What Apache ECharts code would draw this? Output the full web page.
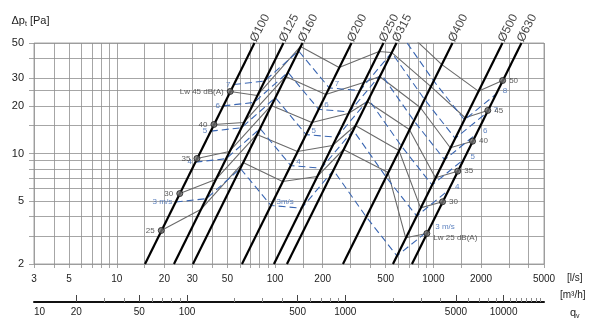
<!DOCTYPE html>
<html><head><meta charset="utf-8">
<script src="https://cdn.jsdelivr.net/npm/echarts@6/dist/echarts.min.js"></script>
<style>html,body{margin:0;padding:0;background:#fff}#c{width:600px;height:331px}</style>
</head><body><div id="c"></div>
<script>
// ---- axes ----
const xGridValues = [3,4,5,6,7,8,9,10,15,20,30,40,50,60,70,80,90,100,150,200,300,400,500,600,700,800,900,1000,1500,2000,3000,4000,5000];
const xLabelValues = [3,5,10,20,30,50,100,200,500,1000,2000,5000];
const yGridValues = [2,3,4,5,6,7,8,9,10,15,20,25,30,40,50];
const yLabelValues = [2,5,10,20,30,50];
const m3hLabelValues = [10.8,20,50,100,500,1000,5000,10000];
const m3hLabelTexts = ['10','20','50','100','500','1000','5000','10000'];
const m3hMajorTicks = [20,50,100,500,1000,5000,10000];
const m3hMinorTicks = [30,40,60,70,80,90,200,300,400,600,700,800,900,2000,3000,4000,6000,7000,8000,9000,11000,12000,13000,14000,15000,16000,17000];

// ---- duct sizes: flow q [l/s] at dp = 2 Pa and at dp = 50 Pa ----
const diameters = ['Ø100','Ø125','Ø160','Ø200','Ø250','Ø315','Ø400','Ø500','Ø630'];
const ductQAt2  = [15.08, 22.98, 30.30, 61.8, 98.4, 118.9, 268.6, 555.7, 732.5];
const ductQAt50 = [74.1, 113.0, 149.0, 304, 484, 585, 1321, 2733, 3602];

// ---- sound power lines Lw [q, dp] through the sizes ----
const lw25 = [[19.1,3.26],[33.9,4.42],[62.8,8.77],[111.6,6.65],[184.3,7.15],[270.4,10.6],[517.5,7.58],[668.8,2.93],[909.7,3.12]];
const lw30 = [[25.0,5.58],[42.1,6.84],[76.8,13.19],[138.6,10.3],[230.5,11.24],[321.6,15.04],[606.5,10.45],[830.2,4.53],[1143,4.95]];
const lw35 = [[32.1,9.30],[51.5,10.3],[94.6,20.13],[170.8,15.71],[290.2,17.92],[382.3,21.34],[705.4,14.19],[1031,7.02],[1425,7.73]];
const lw40 = [[41.1,15.26],[63.5,15.71],[116.7,30.71],[209.0,23.63],[362.8,28.14],[457.7,30.71],[826.8,19.55],[1279,10.87],[1768,11.96]];
const lw45 = [[52.1,24.69],[77.2,23.29],[144.8,47.56],[253.9,35.02],[453.7,44.22],[544.0,43.58],[961.8,26.56],[1588,16.83],[2207,18.72]];
const lw50 = [[647,61.8],[1127,36.6],[1924,24.8],[2740,28.97]];
const lwLeftLabels = ['25','30','35','40','Lw 45 dB(A)'];
const lwRightLabels = ['Lw 25 dB(A)','30','35','40','45','50'];

// ---- velocity lines [q, dp] ----
const vel3 = [[23.56,4.93],[36.82,5.18],[60.32,8.04],[94.25,4.69],[147.3,4.51],[233.8,7.84],[377,3.97],[589,2.25],[935,3.27]];
const vel4 = [[31.42,8.82],[49.09,9.27],[80.42,14.38],[125.7,8.39],[196.3,8.07],[311.7,14.02],[502.7,7.10],[785.4,4.02],[1247,5.86]];
const vel5 = [[39.27,13.85],[61.36,14.55],[100.5,22.56],[157.1,13.17],[245.4,12.67],[389.7,22.01],[628.3,11.14],[981.7,6.32],[1559,9.19]];
const vel6 = [[47.12,20.01],[73.63,21.03],[120.6,32.61],[188.5,19.04],[294.5,18.31],[467.6,31.82],[754,16.11],[1178,9.13],[1870,13.29]];
const vel7 = [[54.98,27.33],[85.9,28.71],[140.7,44.55],[219.9,26.0],[343.6,25.0],[545.5,43.45],[879.6,21.98],[1374,12.46],[2182,18.16]];
const vel8 = [[623.4,56.9],[1005,28.77],[1571,16.33],[2494,23.78]];
const velLeftLabels = ['3 m/s','4','5','6','7'];
const velMidLabels = ['3m/s','4','5','6','7'];
const velRightLabels = ['3 m/s','4','5','6','7','8'];

// ---- build ----
const FONT = 'Liberation Sans, Arial, Helvetica, sans-serif';
const GRID = '#8f8f8f';
const BLUE = '#3a66b2';
const lwSets = [lw25, lw30, lw35, lw40, lw45, lw50];
const velSets = [vel3, vel4, vel5, vel6, vel7, vel8];
const series = [];
const plain = v => String(Math.round(v));

lwSets.forEach(d => series.push({type:'line', data:d, symbol:'none', silent:true, z:3,
  lineStyle:{color:'#6a6a6a', width:1.1}}));
velSets.forEach(d => series.push({type:'line', data:d, symbol:'none', silent:true, z:4,
  lineStyle:{color:BLUE, width:1.1, type:[7,4]}}));
diameters.forEach((n,i) => series.push({type:'line', data:[[ductQAt2[i],2],[ductQAt50[i],50]], symbol:'none', silent:true, z:5,
  lineStyle:{color:'#000', width:2.2}}));

// Lw markers
series.push({type:'scatter', z:7, silent:true, symbolSize:6,
  itemStyle:{color:'#707070', borderColor:'#1a1a1a', borderWidth:1},
  label:{show:true, position:'left', distance:3, fontSize:8, color:'#333', fontFamily:FONT},
  data: lwLeftLabels.map((t,i)=>({value: lwSets[i][0], label:{formatter:t}}))});
series.push({type:'scatter', z:7, silent:true, symbolSize:6,
  itemStyle:{color:'#707070', borderColor:'#1a1a1a', borderWidth:1},
  label:{show:true, position:'right', distance:3, fontSize:8, color:'#333', fontFamily:FONT},
  data: lwRightLabels.map((t,i)=>({value: lwSets[i][lwSets[i].length-1], label: i===0 ? {formatter:t, offset:[0,4]} : {formatter:t}}))});

// velocity labels
series.push({type:'scatter', z:6, silent:true, symbolSize:1, itemStyle:{color:'rgba(0,0,0,0)'},
  label:{show:true, position:'left', distance:3, fontSize:8, color:BLUE, fontFamily:FONT},
  data: velLeftLabels.map((t,i)=>({value: velSets[i][0], label:{formatter:t}}))});
series.push({type:'scatter', z:6, silent:true, symbolSize:1, itemStyle:{color:'rgba(0,0,0,0)'},
  label:{show:true, position:'right', distance:5, offset:[0,-4], fontSize:8, color:BLUE, fontFamily:FONT},
  data: velMidLabels.map((t,i)=>({value: velSets[i][3], label:{formatter:t}}))});
series.push({type:'scatter', z:6, silent:true, symbolSize:1, itemStyle:{color:'rgba(0,0,0,0)'},
  label:{show:true, position:'right', distance:6, offset:[0,-3], fontSize:8, color:BLUE, fontFamily:FONT},
  data: velRightLabels.map((t,i)=>({value: velSets[i][velSets[i].length-1], label:{formatter:t}}))});

// diameter labels
series.push({type:'scatter', z:6, silent:true, clip:false, symbolSize:1, itemStyle:{color:'rgba(0,0,0,0)'},
  label:{show:true, position:'right', distance:2, rotate:63, offset:[0,-4], fontSize:12, color:'#111', fontFamily:FONT, formatter:'{b}'},
  data: diameters.map((n,i)=>({name:n, value:[ductQAt50[i],50]}))});

const chart = echarts.init(document.getElementById('c'), null, {renderer:'canvas'});
chart.setOption({
  animation:false,
  backgroundColor:'#fff',
  textStyle:{fontFamily:FONT},
  grid:{left:34, right:56, top:43, bottom:67, show:true, borderColor:GRID, borderWidth:0.8, outerBoundsMode:'none', containLabel:false},
  xAxis:[
    {type:'log', min:3, max:5000, position:'bottom',
     name:'[l/s]', nameLocation:'end', nameGap:23,
     nameTextStyle:{fontSize:10, color:'#222', verticalAlign:'top', padding:[9,0,0,0]},
     axisLine:{show:false},
     axisTick:{show:true, length:4, customValues:xGridValues, lineStyle:{color:GRID, width:0.8}},
     axisLabel:{customValues:xLabelValues, fontSize:10, color:'#222', margin:10, formatter:plain},
     splitLine:{show:true, lineStyle:{color:GRID, width:0.8}},
     minorTick:{show:false}, minorSplitLine:{show:false}},
    {type:'log', min:10.8, max:18000, position:'bottom', offset:38,
     name:'[m³/h]', nameLocation:'end', nameGap:16,
     nameTextStyle:{fontSize:10, color:'#222', verticalAlign:'bottom', padding:[0,0,2,0]},
     axisLine:{show:true, lineStyle:{color:'#111', width:2}},
     axisTick:{show:true, inside:true, length:7, customValues:m3hMajorTicks, lineStyle:{color:'#444', width:1}},
     axisLabel:{customValues:m3hLabelValues, alignMinLabel:'left', fontSize:10, color:'#222', margin:5,
       formatter:(v)=>{ const i = m3hLabelValues.findIndex(x=>Math.abs(x-v)/x<1e-6); return i>=0 ? m3hLabelTexts[i] : ''; }},
     splitLine:{show:false}},
    {type:'log', min:10.8, max:18000, position:'bottom', offset:38,
     name:'{q|q}{s|v}', nameLocation:'end', nameGap:26,
     nameTextStyle:{verticalAlign:'top', padding:[4,0,0,0], rich:{q:{fontSize:11, color:'#222', lineHeight:14, verticalAlign:'middle'}, s:{fontSize:7, color:'#222', lineHeight:7, verticalAlign:'bottom'}}},
     axisLine:{show:false},
     axisTick:{show:true, inside:true, length:4, customValues:m3hMinorTicks, lineStyle:{color:'#888', width:1}},
     axisLabel:{show:false}, splitLine:{show:false}}
  ],
  yAxis:{type:'log', min:2, max:50,
     name:'{a|Δp}{s|t}{a| [Pa]}', nameLocation:'end', nameGap:22,
     nameTextStyle:{align:'center', verticalAlign:'middle', padding:[0,7,0,0], rich:{a:{fontSize:11, color:'#222', lineHeight:14, verticalAlign:'middle'}, s:{fontSize:7, color:'#222', lineHeight:7, verticalAlign:'bottom'}}},
     axisLine:{show:false},
     axisTick:{show:true, length:5, customValues:yGridValues, lineStyle:{color:GRID, width:0.8}},
     axisLabel:{customValues:yLabelValues, fontSize:11, color:'#222', margin:10, formatter:plain},
     splitLine:{show:true, lineStyle:{color:GRID, width:0.8}},
     minorTick:{show:false}, minorSplitLine:{show:false}},
  series: series
});
</script></body></html>
